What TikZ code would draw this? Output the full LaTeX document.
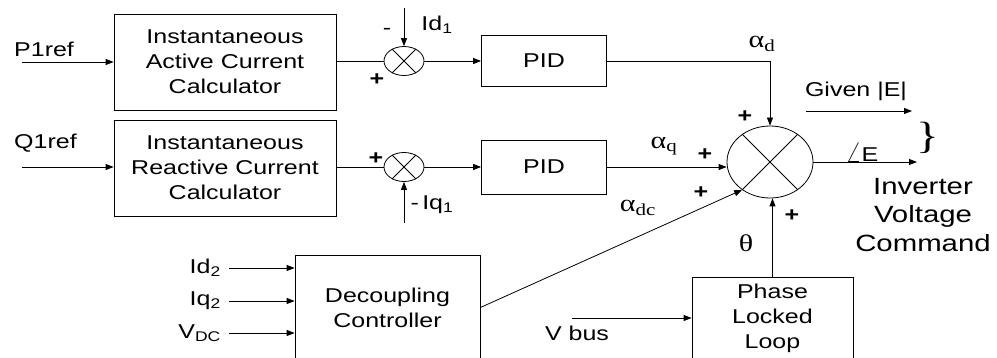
\documentclass[tikz,border=0pt]{standalone}
\usepackage{fontspec}
\setmainfont{Liberation Sans}[FakeStretch=1.25]
\newfontfamily\grk{Liberation Serif}[FakeStretch=1.25]
\usetikzlibrary{arrows.meta,shapes.geometric}
\tikzset{blk/.style={draw,line width=0.8pt,align=center,inner sep=0pt},sumj/.style={draw,ellipse,line width=0.8pt,inner sep=0pt},arr/.style={-{Triangle[length=8pt,width=6pt]},line width=0.8pt},ln/.style={line width=0.8pt},lbl/.style={inner sep=0pt,align=center},gk/.style={inner sep=0pt,font=\grk\fontsize{24}{24}\selectfont}}

\begin{document}
\begin{tikzpicture}[x=1pt,y=-1pt,font=\fontsize{20}{25}\selectfont]
\useasboundingbox(0,0)rectangle(997,358);\clip(0,0)rectangle(997,358);
\node[blk,minimum width=222pt,minimum height=96pt](calcA)at(225,62){Instantaneous\\Active Current\\Calculator};
\node[blk,minimum width=222pt,minimum height=96pt](calcR)at(225,168){Instantaneous\\Reactive Current\\Calculator};
\node[sumj,minimum width=40pt,minimum height=29pt](sumA)at(404,61){};
\node[sumj,minimum width=40pt,minimum height=29pt](sumR)at(404,167){};
\node[blk,minimum width=125pt,minimum height=51pt](pidA)at(544,61){PID};
\node[blk,minimum width=125pt,minimum height=54pt](pidR)at(544,167){PID};
\node[sumj,minimum width=86pt,minimum height=72pt](sumE)at(770,162){};
\node[blk,minimum width=185pt,minimum height=105pt](dec)at(387.5,307.5){Decoupling\\Controller};
\node[blk,minimum width=161pt,minimum height=83pt](pll)at(772.5,318.5){Phase\\Locked\\Loop};
\foreach\s in{sumA,sumR,sumE}{\draw[ln](\s.45)--(\s.225);\draw[ln](\s.135)--(\s.315);}
\node[lbl,anchor=west](p1)at(14,49){P1ref};\node[lbl,anchor=west](q1)at(14,143){Q1ref};
\coordinate(p1s)at(22,62);\coordinate(q1s)at(22,167);
\draw[arr](p1s)--(p1s -| calcA.west);\draw[arr](q1s)--(q1s -| calcR.west);
\draw[ln](calcA.east |- sumA)--(sumA.west);\draw[ln](calcR.east |- sumR)--(sumR.west);
\draw[arr](sumA.east)--(pidA.west);\draw[arr](sumR.east)--(pidR.west);
\coordinate(idA)at(404,8);\coordinate(iqR)at(404,223);
\draw[arr](idA)--(sumA.north);\draw[arr](iqR)--(sumR.south);
\node[lbl](mA)at(387,31){-};\node[lbl](idl)at(437,25){Id\textsubscript{1}};
\node[lbl](pA)at(377,80){\textbf{+}};\node[lbl](pR)at(376,159){\textbf{+}};
\node[lbl](iql)at(432,205){-\,Iq\textsubscript{1}};
\draw[arr](pidA.east)-|(sumE.north);
\draw[arr](pidR.east)--(pidR.east -| sumE.west);
\draw[arr](dec.east)--(sumE.225);
\draw[arr](pll.north)--(pll.north |- sumE.south);
\coordinate(vb)at(572,318);\draw[arr](vb)--(vb -| pll.west);
\coordinate(outE)at(917,162);\draw[arr](sumE.east)--(outE);
\coordinate(gs)at(806,111);\coordinate(ge)at(912,111);\draw[arr](gs)--(ge);
\node[gk](ad)at(762,44){α\textsubscript{d}};\node[gk](aq)at(664,146){α\textsubscript{q}};
\node[gk](adc)at(638,208){α\textsubscript{dc}};\node[gk](th)at(746,243){θ};
\node[lbl](pd)at(745,117){\textbf{+}};\node[lbl](pq)at(705,155){\textbf{+}};
\node[lbl](pdc)at(701,193){\textbf{+}};\node[lbl](pth)at(792,216){\textbf{+}};
\node[lbl](giv)at(856,91){Given |E|};\node[lbl](ang)at(862,152){{\fontsize{28}{28}\selectfont$\angle$}E};
\node[lbl](br)at(928,138){\grk\fontsize{38}{38}\selectfont\}};
\node[lbl,font=\fontsize{23.5}{28.5}\selectfont](inv)at(923,215){Inverter\\Voltage\\Command};
\foreach\n/\t/\y in{id2/Id\textsubscript{2}/268,iq2/Iq\textsubscript{2}/301,vdc/V\textsubscript{DC}/333}{\node[lbl,anchor=east](\n)at(221,\y){\t};\draw[arr]([xshift=8pt]\n.east)--(\n.east -| dec.west);}
\node[lbl](vbl)at(577,333){V bus};
\end{tikzpicture}
\end{document}
